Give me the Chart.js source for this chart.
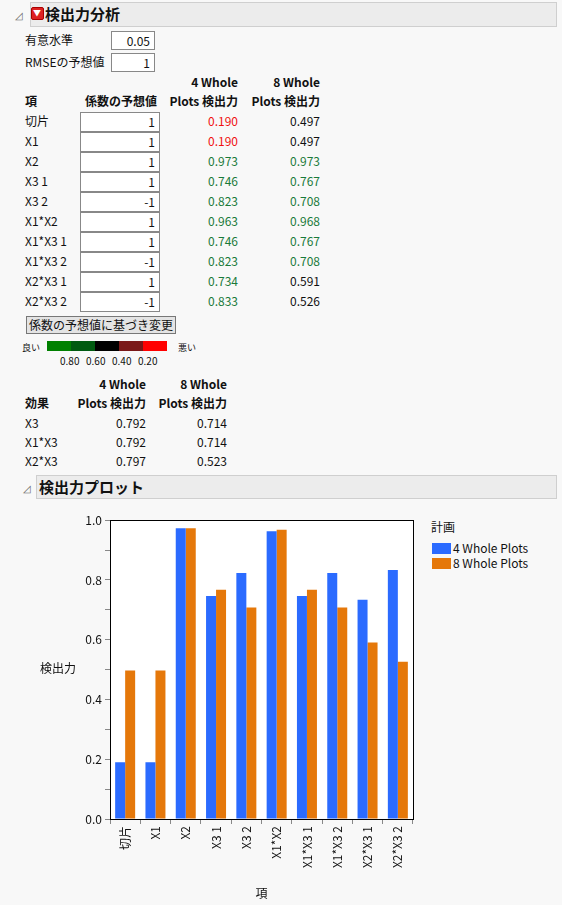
<!DOCTYPE html>
<html>
<head>
<meta charset="utf-8">
<script src="https://cdn.jsdelivr.net/npm/chart.js@4"></script>
<style>
  body { margin: 0; background: #f8f8f8; font-family: "Noto Sans CJK JP", sans-serif; font-size: 12px; color: #111; }
  #page { position: relative; width: 562px; height: 905px; overflow: hidden; }
  .a { position: absolute; white-space: nowrap; line-height: 16px; }
  .r { text-align: right; }
  .b { font-weight: bold; }
  .box { position: absolute; background: #fff; border: 1px solid #888; box-sizing: border-box; text-align: right; padding-right: 4px; line-height: 17px; }
  .hdr { position: absolute; background: #ececec; border: 1px solid #cfcfcf; box-sizing: border-box; }
  .tri { position: absolute; font-size: 10px; color: #666; }
  #chartWrap { position: absolute; left: 0; top: 510px; width: 420px; height: 395px; }
</style>
</head>
<body>
<div id="page">
  <div class="tri" style="left:15px;top:7px;">◿</div>
  <div class="hdr" style="left:30px;top:2px;width:527px;height:25px;"></div>
  <div class="a" style="left:31px;top:7px;width:11px;height:11px;background:#d22;border:1px solid #a00;border-radius:2px;"></div>
  <div class="a" style="left:33px;top:7px;color:#fff;font-size:8px;line-height:12px;">▼</div>
  <div class="a b" style="left:45px;top:5px;font-size:15px;line-height:18px;">検出力分析</div>

  <div class="tri" style="left:23px;top:480px;">◿</div>
  <div class="hdr" style="left:36px;top:475px;width:521px;height:24px;"></div>
  <div class="a b" style="left:39px;top:478px;font-size:15px;line-height:18px;">検出力プロット</div>

  <div id="wrap"></div>
  <div id="chartWrap"><canvas id="powerChart"></canvas></div>
</div>
<script>
const terms = ["切片", "X1", "X2", "X3 1", "X3 2", "X1*X2", "X1*X3 1", "X1*X3 2", "X2*X3 1", "X2*X3 2"];
const coefs = [1, 1, 1, 1, -1, 1, 1, -1, 1, -1];
const power4 = [0.190, 0.190, 0.973, 0.746, 0.823, 0.963, 0.746, 0.823, 0.734, 0.833];
const power8 = [0.497, 0.497, 0.973, 0.767, 0.708, 0.968, 0.767, 0.708, 0.591, 0.526];
const effects = ["X3", "X1*X3", "X2*X3"];
const effect4 = [0.792, 0.792, 0.797];
const effect8 = [0.714, 0.714, 0.523];
const seriesNames = ["4 Whole Plots", "8 Whole Plots"];
const scaleLabels = ["0.80", "0.60", "0.40", "0.20"];

const page = document.getElementById("page");

function put(text, left, top, cls, extra) {
  const d = document.createElement("div");
  d.className = "a " + (cls || "");
  d.textContent = text;
  d.style.left = left + "px";
  d.style.top = top + "px";
  if (extra) Object.assign(d.style, extra);
  page.appendChild(d);
  return d;
}
function putRight(text, right, top, cls, extra) {
  const d = put(text, 0, top, "r " + (cls || ""), extra);
  d.style.left = (right - 120) + "px";
  d.style.width = "120px";
  return d;
}
function box(text, left, top, w, h) {
  const d = document.createElement("div");
  d.className = "box";
  d.textContent = text;
  Object.assign(d.style, { left: left + "px", top: top + "px", width: w + "px", height: h + "px" });
  page.appendChild(d);
}
function powerColor(v) {
  if (v >= 0.7) return "#1a7a3a";
  if (v >= 0.4) return "#111";
  return "#f01010";
}

// 入力欄
put("有意水準", 25, 32);
box("0.05", 111, 31, 44, 19);
put("RMSEの予想値", 25, 54);
box("1", 111, 53, 44, 19);

// 項の表
putRight("4 Whole", 238, 74, "b");
putRight("Plots 検出力", 238, 93, "b");
putRight("8 Whole", 320, 74, "b");
putRight("Plots 検出力", 320, 93, "b");
put("項", 25, 93, "b");
putRight("係数の予想値", 157, 93, "b");
terms.forEach((t, i) => {
  const y = 113 + i * 20;
  put(t, 25, y);
  box(String(coefs[i]), 80, y - 1, 80, 20);
  putRight(power4[i].toFixed(3), 238, y, "", { color: powerColor(power4[i]) });
  putRight(power8[i].toFixed(3), 320, y, "", { color: powerColor(power8[i]) });
});

// ボタン
const btn = put("係数の予想値に基づき変更", 26, 316, "", {
  border: "1px solid #777", background: "#e4e4e4", padding: "0 2px", lineHeight: "16px"
});

// カラーバー
put("良い", 22, 342, "", { fontSize: "9px", lineHeight: "12px" });
put("悪い", 178, 342, "", { fontSize: "9px", lineHeight: "12px" });
["#008000", "#005a10", "#000000", "#7a1818", "#ff0000"].forEach((c, i) => {
  put("", 47 + i * 24, 341, "", { width: "24px", height: "10px", background: c });
});
scaleLabels.forEach((s, i) => put(s, 60 + i * 26, 355, "", { fontSize: "10px", lineHeight: "12px" }));

// 効果の表
putRight("4 Whole", 146, 376, "b");
putRight("Plots 検出力", 146, 395, "b");
putRight("8 Whole", 227, 376, "b");
putRight("Plots 検出力", 227, 395, "b");
put("効果", 25, 395, "b");
effects.forEach((e, i) => {
  const y = 415 + i * 19;
  put(e, 25, y);
  putRight(effect4[i].toFixed(3), 146, y);
  putRight(effect8[i].toFixed(3), 227, y);
});

// 凡例
put("計画", 431, 519);
const swatch = ["#2b6bff", "#e5780a"];
seriesNames.forEach((n, i) => {
  put("", 432, 543 + i * 15, "", { width: "19px", height: "11px", background: swatch[i] });
  put(n, 453, 540 + i * 15);
});
put("検出力", 40, 660);

const framePlugin = {
  id: "frame",
  afterDraw(chart) {
    const a = chart.chartArea, ctx = chart.ctx;
    ctx.save();
    ctx.strokeStyle = "#000";
    ctx.lineWidth = 1;
    ctx.strokeRect(Math.round(a.left) + 0.5, Math.round(a.top) + 0.5, Math.round(a.width), Math.round(a.height));
    ctx.restore();
  },
  beforeDraw(chart) {
    const a = chart.chartArea, ctx = chart.ctx;
    ctx.save();
    ctx.fillStyle = "#fff";
    ctx.fillRect(a.left, a.top, a.width, a.height);
    ctx.restore();
  }
};

const font = { family: "Noto Sans CJK JP", size: 12 };
new Chart(document.getElementById("powerChart"), {
  type: "bar",
  data: {
    labels: terms,
    datasets: [
      { label: seriesNames[0], data: power4, backgroundColor: swatch[0] },
      { label: seriesNames[1], data: power8, backgroundColor: swatch[1] },
    ],
  },
  options: {
    responsive: true,
    maintainAspectRatio: false,
    animation: false,
    categoryPercentage: 0.66,
    barPercentage: 1,
    layout: { padding: { left: 70, top: 9, right: 7, bottom: 0 } },
    plugins: { legend: { display: false }, tooltip: { enabled: false } },
    scales: {
      x: {
        grid: { drawOnChartArea: false, tickLength: 5, color: "#888" },
        border: { display: false },
        ticks: { color: "#111", font, minRotation: 90, maxRotation: 90, padding: 2 },
        title: { display: true, text: "項", color: "#111", font, padding: { top: 4 } },
        afterFit(s) { s.height = 86; },
      },
      y: {
        min: 0,
        max: 1,
        grid: { drawOnChartArea: false, tickLength: 5, color: "#888" },
        border: { display: false },
        ticks: {
          stepSize: 0.1,
          color: "#111",
          font,
          padding: 3,
          callback: (v) => (Math.round(v * 10) % 2 === 0 ? v.toFixed(1) : ""),
        },
        afterFit(s) { s.width = 40; },
      },
    },
  },
  plugins: [framePlugin],
});
</script>
</body>
</html>
